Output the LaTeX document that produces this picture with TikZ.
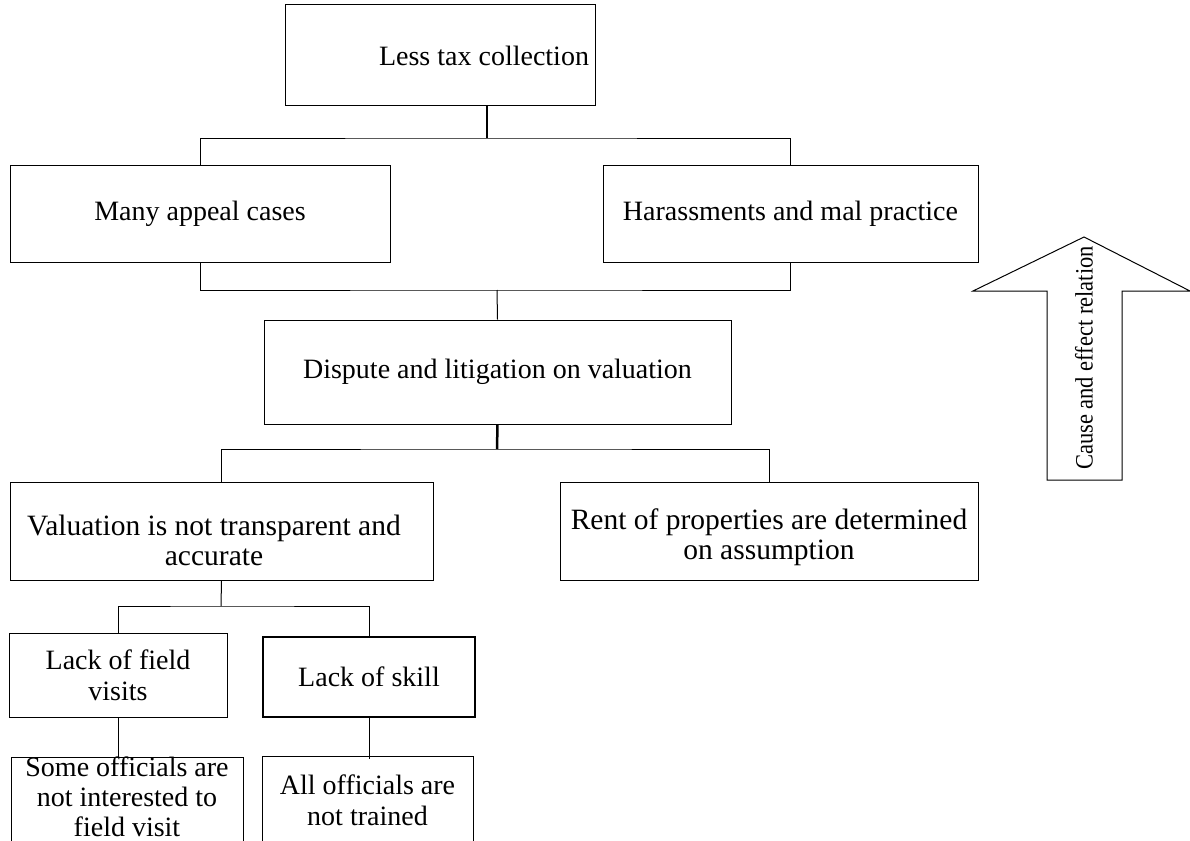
\documentclass[tikz,border=0pt]{standalone}
\usepackage{fontspec}
\usepackage{graphicx}
\setmainfont{Liberation Serif}
\begin{document}
\begin{tikzpicture}[x=1pt,y=-1pt,
  box/.style={draw, line width=1pt, inner sep=0pt, font=\fontsize{28}{31}\selectfont, align=center},
  frame/.style={draw, line width=1pt, inner sep=0pt},
  btext/.style={inner sep=0pt, font=\fontsize{29.5}{30}\selectfont, align=center},
  conn/.style={line width=1pt}]
\useasboundingbox (0,0) rectangle (1190,840);
\clip (0,0) rectangle (1190,840);
\node[box, minimum width=310, minimum height=101] (b1) at (440,55.5) {\hspace*{88pt}Less tax collection};
\node[box, minimum width=380, minimum height=97] (b2) at (200,213.5) {Many appeal cases};
\node[box, minimum width=375, minimum height=97] (b3) at (790.5,213.5) {Harassments and mal practice};
\node[box, minimum width=467, minimum height=104] (b4) at (497.5,372) {Dispute and litigation on valuation};
\node[frame, minimum width=423, minimum height=98] (b5) at (221.5,531) {};
\node[btext] (b5t) at (214,540) {Valuation is not transparent and\\accurate};
\node[frame, minimum width=418, minimum height=98] (b6) at (769,531) {};
\node[btext] (b6t) at (769,537) {Rent of properties are determined\\on assumption};
\node[box, minimum width=218, minimum height=84] (b7) at (118,675) {Lack of field\\visits};
\node[box, line width=2pt, minimum width=212, minimum height=80] (b8) at (369,677) {Lack of skill};
\node[frame, minimum width=232, minimum height=94] (b9) at (127,804) {};
\node[btext, font=\fontsize{28}{30}\selectfont] (b9t) at (127,797) {Some officials are\\not interested to\\field visit};
\node[box, minimum width=211, minimum height=88] (b10) at (367.5,800) {All officials are\\not trained};
\coordinate (j1) at (487,138);
\coordinate (j2) at (497,290);
\coordinate (j3) at (497,449);
\coordinate (j4) at (221,606);
\draw[conn, line width=1.5pt] (j1 |- b1.south) -- (j1);
\draw[conn] (b2.north) |- (j1) -| (b3.north);
\draw[conn] (b2.south) |- (j2) -| (b3.south);
\draw[conn] (j2) -- (b4.north);
\draw[conn, line width=2.5pt] (b4.south) -- (j3);
\draw[conn] (b5.north) |- (j3) -| (b6.north);
\draw[conn] (b5.south) -- (j4);
\draw[conn] (b7.north) |- (j4) -| (b8.north);
\draw[conn] (b7.south) -- (b7.south |- b9.north);
\draw[conn] (b8.south) -- ([yshift=-3pt]b8.south |- b10.north);
% arrow
\draw[line width=1pt] (1084,237) -- (1190,291) -- (1122,291) -- (1122,480) -- (1047,480) -- (1047,291) -- (973,291) -- cycle;
\node[rotate=90, inner sep=0pt, font=\fontsize{25}{25}\selectfont] (arrtext) at (1084,358) {\scalebox{0.9}[1]{Cause and effect relation}};
\end{tikzpicture}
\end{document}
